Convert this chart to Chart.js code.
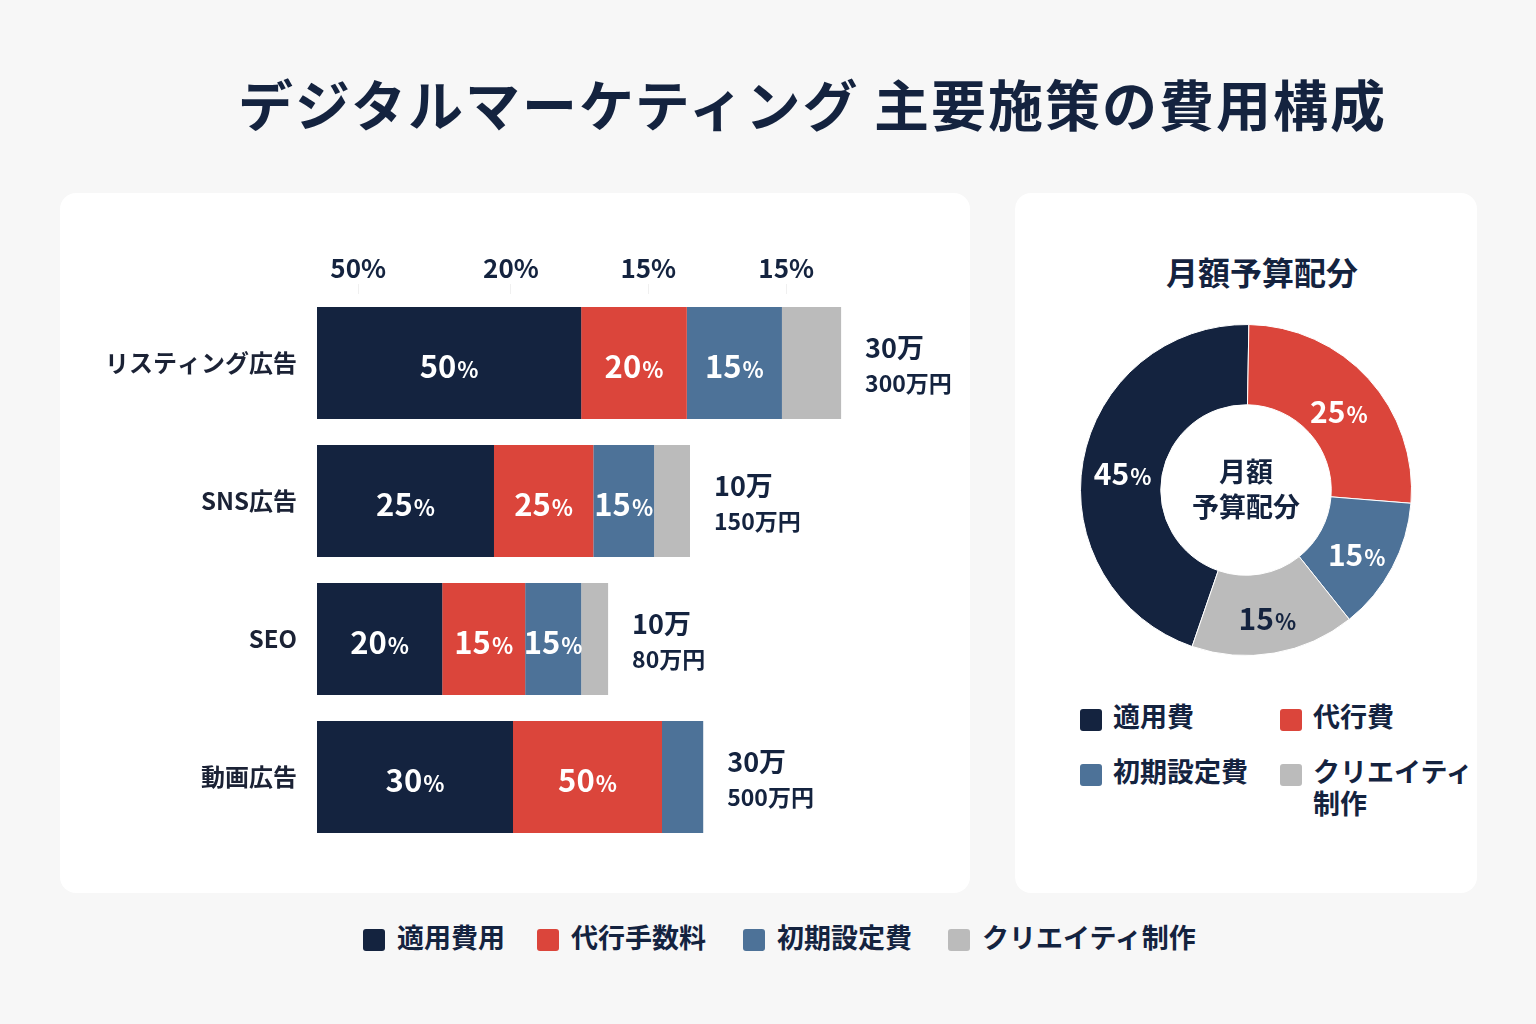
<!DOCTYPE html>
<html lang="ja">
<head>
<meta charset="utf-8">
<script src="https://cdn.jsdelivr.net/npm/chart.js@4"></script>
<style>
  html, body { margin: 0; padding: 0; }
  body {
    width: 1536px; height: 1024px; position: relative; overflow: hidden;
    background: #f7f7f7;
    font-family: "Noto Sans CJK JP", "Noto Sans", sans-serif;
    color: #14233f;
  }
  h1 {
    position: absolute; left: 238px; top: 62px; margin: 0;
    font-size: 55px; font-weight: 700; letter-spacing: 2px; white-space: nowrap;
  }
  .card { position: absolute; background: #fff; border-radius: 16px; }
  #barCard { left: 60px; top: 193px; width: 910px; height: 700px; }
  #pieCard { left: 1015px; top: 193px; width: 462px; height: 700px; }
  #barCanvas { position: absolute; left: 0; top: 0; }
  #pieCanvas { position: absolute; left: 61px; top: 127px; }
  .pieTitle {
    position: absolute; top: 248px; text-align: center;
    font-size: 32px; font-weight: 700;
  }
  .item { position: absolute; font-weight: 700; white-space: nowrap; line-height: 1.2; }
  .sw { position: absolute; width: 22px; height: 22px; border-radius: 3px; }
</style>
</head>
<body>
<h1>デジタルマーケティング 主要施策の費用構成</h1>
<div class="card" id="barCard"><canvas id="barCanvas" width="910" height="700"></canvas></div>
<div class="card" id="pieCard"><canvas id="pieCanvas" width="340" height="340"></canvas></div>
<div class="pieTitle" style="left:1015px;width:494px;">月額予算配分</div>
<div id="pieLegend"></div>
<div id="bottomLegend"></div>

<script>
// カテゴリと系列
const categories = ["リスティング広告", "SNS広告", "SEO", "動画広告"];
const seriesNames = ["適用費用", "代行手数料", "初期設定費", "クリエイティ制作"];
const colors = ["#14233f", "#db453b", "#4d7298", "#bbbbbb"];

// バーの長さ（図から読み取った相対値）
const adCost = [50, 33.5, 23.7, 37.1];
const agencyFee = [20, 18.8, 15.7, 28.2];
const setupFee = [18, 11.5, 10.6, 7.8];
const creative = [11.2, 6.8, 5.1, 0];

// バー内に表示されているラベル
const adCostLabels = ["50%", "25%", "20%", "30%"];
const agencyFeeLabels = ["20%", "25%", "15%", "50%"];
const setupFeeLabels = ["15%", "15%", "15%", ""];
const creativeLabels = ["", "", "", ""];

// バー右側の金額
const monthlyLabels = ["30万", "10万", "10万", "30万"];
const totalLabels = ["300万円", "150万円", "80万円", "500万円"];

// 上部の目盛りラベル
const topTickValues = [7.8, 36.7, 62.7, 88.8];
const topTickLabels = ["50%", "20%", "15%", "15%"];

// 月額予算配分（ドーナツ）
const pieNames = ["適用費", "代行費", "初期設定費", "クリエイティ\n制作"];
const pieValues = [45, 26, 13, 16];
const pieLabels = ["45%", "25%", "15%", "15%"];

const FONT = '"Noto Sans CJK JP", "Noto Sans", sans-serif';

function drawPct(ctx, text, x, y, big, small, color) {
  if (!text) return;
  const num = text.replace("%", "");
  ctx.save();
  ctx.fillStyle = color;
  ctx.textBaseline = "alphabetic";
  ctx.font = "700 " + big + "px " + FONT;
  const w1 = ctx.measureText(num).width;
  ctx.font = "700 " + small + "px " + FONT;
  const w2 = ctx.measureText("%").width;
  const start = x - (w1 + w2 + 1) / 2;
  const base = y + big * 0.36;
  ctx.textAlign = "left";
  ctx.font = "700 " + big + "px " + FONT;
  ctx.fillText(num, start, base);
  ctx.font = "700 " + small + "px " + FONT;
  ctx.fillText("%", start + w1 + 1, base);
  ctx.restore();
}

const barLabelSets = [adCostLabels, agencyFeeLabels, setupFeeLabels, creativeLabels];

const barLabelsPlugin = {
  id: "barLabels",
  afterDatasetsDraw(chart) {
    const ctx = chart.ctx;
    chart.data.datasets.forEach((ds, di) => {
      chart.getDatasetMeta(di).data.forEach((bar, i) => {
        const txt = barLabelSets[di][i];
        if (!txt) return;
        const cx = (bar.x + bar.base) / 2;
        drawPct(ctx, txt, cx, bar.y + 4, 31, 22, "#ffffff");
      });
    });
    // 右側の金額
    categories.forEach((c, i) => {
      let endX = 0, y = 0;
      chart.data.datasets.forEach((ds, di) => {
        const bar = chart.getDatasetMeta(di).data[i];
        if (ds.data[i] > 0) { endX = Math.max(endX, bar.x); y = bar.y; }
      });
      ctx.save();
      ctx.fillStyle = "#14233f";
      ctx.textAlign = "left";
      ctx.textBaseline = "middle";
      ctx.font = "700 27px " + FONT;
      ctx.fillText(monthlyLabels[i], endX + 24, y - 15);
      ctx.font = "700 23px " + FONT;
      ctx.fillText(totalLabels[i], endX + 24, y + 20);
      ctx.restore();
    });
  }
};

const seriesData = [adCost, agencyFee, setupFee, creative];

new Chart(document.getElementById("barCanvas"), {
  type: "bar",
  data: {
    labels: categories,
    datasets: seriesNames.map((name, i) => ({
      label: name,
      data: seriesData[i],
      backgroundColor: colors[i],
      borderWidth: 0,
      categoryPercentage: 1,
      barPercentage: 0.81,
    })),
  },
  options: {
    indexAxis: "y",
    responsive: false,
    animation: false,
    layout: { padding: { top: 0, right: 19, bottom: 47, left: 0 } },
    plugins: { legend: { display: false }, tooltip: { enabled: false } },
    scales: {
      x: { stacked: true, min: 0, max: 120, display: false },
      x2: {
        type: "linear",
        position: "top",
        min: 0,
        max: 120,
        afterBuildTicks(scale) {
          scale.ticks = topTickValues.map((v) => ({ value: v }));
        },
        afterFit(scale) { scale.height = 101; },
        grid: { drawOnChartArea: false, color: "#f0f0f0", tickLength: 10 },
        border: { display: false },
        ticks: {
          padding: 0,
          color: "#14233f",
          font: { family: FONT, size: 26, weight: "700" },
          callback: (v, i) => topTickLabels[i],
        },
      },
      y: {
        stacked: true,
        grid: { display: false },
        border: { display: false },
        afterFit(scale) { scale.width = 257; },
        ticks: {
          padding: 12,
          color: "#1b2235",
          font: { family: FONT, size: 24, weight: "700" },
        },
      },
    },
  },
  plugins: [barLabelsPlugin],
});

const pieLabelsPlugin = {
  id: "pieLabels",
  afterDatasetsDraw(chart) {
    const ctx = chart.ctx;
    chart.getDatasetMeta(0).data.forEach((arc, i) => {
      const mid = (arc.startAngle + arc.endAngle) / 2;
      const r = (arc.innerRadius + arc.outerRadius) / 2;
      const x = arc.x + Math.cos(mid) * r;
      const y = arc.y + Math.sin(mid) * r;
      drawPct(ctx, pieLabels[i], x, y + 6, 30, 22, i === 3 ? "#14233f" : "#ffffff");
    });
    const a = chart.getDatasetMeta(0).data[0];
    ctx.save();
    ctx.fillStyle = "#14233f";
    ctx.textAlign = "center";
    ctx.textBaseline = "middle";
    ctx.font = "700 27px " + FONT;
    ctx.fillText("月額", a.x, a.y - 18);
    ctx.fillText("予算配分", a.x, a.y + 17);
    ctx.restore();
  }
};

new Chart(document.getElementById("pieCanvas"), {
  type: "doughnut",
  data: {
    labels: pieNames,
    datasets: [{
      data: pieValues,
      backgroundColor: colors,
      borderColor: "#ffffff",
      borderWidth: 1,
    }],
  },
  options: {
    responsive: false,
    animation: false,
    rotation: 199,
    cutout: "51.5%",
    layout: { padding: 4 },
    plugins: { legend: { display: false }, tooltip: { enabled: false } },
  },
  plugins: [pieLabelsPlugin],
});

// HTML 凡例
function addItem(parent, text, color, sx, sy, tx, ty, size) {
  const sw = document.createElement("div");
  sw.className = "sw";
  sw.style.cssText += `left:${sx}px;top:${sy}px;background:${color};`;
  const t = document.createElement("div");
  t.className = "item";
  t.style.cssText += `left:${tx}px;top:${ty}px;font-size:${size}px;`;
  t.innerHTML = text.replace("\n", "<br>");
  parent.appendChild(sw);
  parent.appendChild(t);
}

const pieLegend = document.getElementById("pieLegend");
const pieLegendPos = [[1080, 709], [1280, 709], [1080, 764], [1280, 764]];
pieNames.forEach((n, i) => {
  const [x, y] = pieLegendPos[i];
  addItem(pieLegend, n, colors[i], x, y, x + 33, y - 9, 27);
});

const bottomLegend = document.getElementById("bottomLegend");
const bottomPos = [363, 537, 743, 948];
seriesNames.forEach((n, i) => {
  addItem(bottomLegend, n, colors[i], bottomPos[i], 929, bottomPos[i] + 34, 921, 27);
});
</script>
</body>
</html>
